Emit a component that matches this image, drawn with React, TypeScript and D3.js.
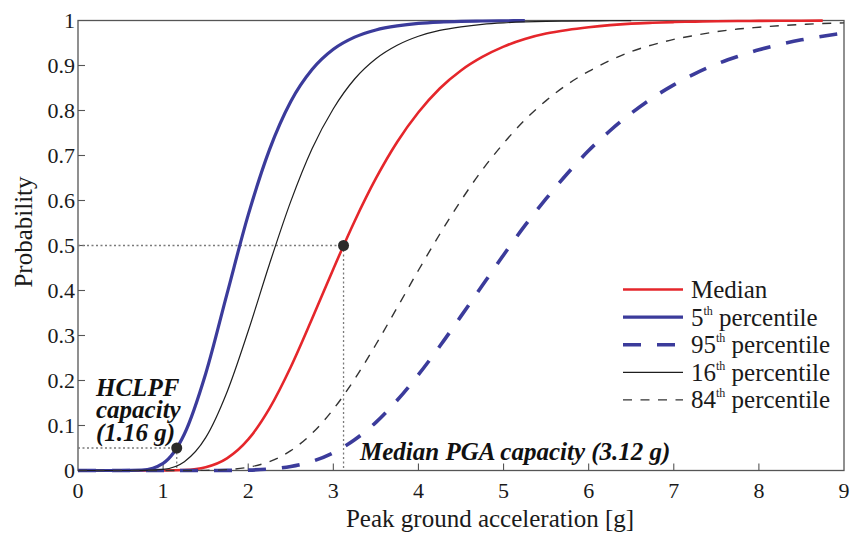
import React from "react";
import * as d3 from "d3";

// Peak ground acceleration grid [g]
const accel = [0, 0.25, 0.5, 0.75, 1, 1.25, 1.5, 1.75, 2, 2.25, 2.5, 2.75, 3, 3.25, 3.5, 3.75, 4, 4.25, 4.5, 4.75, 5, 5.25, 5.5, 5.75, 6, 6.25, 6.5, 6.75, 7, 7.25, 7.5, 7.75, 8, 8.25, 8.5, 8.75, 9];

// Probability of failure for each curve
const pMedian = [0, 0, 0, 0, 0.0001, 0.0011, 0.0073, 0.027, 0.069, 0.138, 0.23, 0.337, 0.448, 0.554, 0.649, 0.73, 0.796, 0.849, 0.889, 0.919, 0.942, 0.959, 0.971, 0.979, 0.985, 0.9897, 0.993, 0.995, 0.9965, 0.9975, 0.9983, 0.9988, 0.9992, 0.9994, 0.9996, 0.9997];
const p05 = [0, 0, 0, 0.001, 0.016, 0.081, 0.215, 0.392, 0.568, 0.713, 0.82, 0.891, 0.936, 0.963, 0.979, 0.988, 0.9935, 0.9964, 0.998, 0.9989, 0.9994, 0.9996];
const p95 = [0, 0, 0, 0, 0, 0, 0, 0.0002, 0.0009, 0.0033, 0.0091, 0.0204, 0.0396, 0.0683, 0.107, 0.156, 0.213, 0.276, 0.343, 0.411, 0.479, 0.544, 0.604, 0.66, 0.711, 0.755, 0.794, 0.828, 0.857, 0.882, 0.903, 0.92, 0.935, 0.947, 0.957, 0.965, 0.972];
const p16 = [0, 0, 0, 0.0001, 0.0025, 0.0196, 0.073, 0.174, 0.31, 0.459, 0.598, 0.715, 0.804, 0.87, 0.915, 0.945, 0.965, 0.978, 0.986, 0.9915, 0.9948, 0.9968, 0.998, 0.9988, 0.9992, 0.9995, 0.9997];
const p84 = [0, 0, 0, 0, 0, 0, 0.0003, 0.0019, 0.0072, 0.0198, 0.0441, 0.0826, 0.136, 0.203, 0.28, 0.362, 0.445, 0.525, 0.6, 0.668, 0.727, 0.779, 0.822, 0.858, 0.887, 0.911, 0.931, 0.946, 0.958, 0.967, 0.975, 0.981, 0.985, 0.9885, 0.991, 0.9933, 0.9948];

const xTicks = [0, 1, 2, 3, 4, 5, 6, 7, 8, 9];
const yTicks = [0, 0.1, 0.2, 0.3, 0.4, 0.5, 0.6, 0.7, 0.8, 0.9, 1];
const yTickLabels = ["0", "0.1", "0.2", "0.3", "0.4", "0.5", "0.6", "0.7", "0.8", "0.9", "1"];

const hclpf = { a: 1.16, p: 0.05 };
const medianCap = { a: 3.12, p: 0.5 };

const legendNames = ["Median", "5", "95", "16", "84"];
const hclpfLines = ["HCLPF", "capacity", "(1.16 g)"];

const BLUE = "#3b3b9b";
const RED = "#e5262b";
const FONT = "'Liberation Serif', 'Times New Roman', serif";

const series = [
  { key: "median", values: pMedian, color: RED, width: 2.6, dash: "" },
  { key: "p05", values: p05, color: BLUE, width: 3.2, dash: "" },
  { key: "p95", values: p95, color: BLUE, width: 3.6, dash: "18 16" },
  { key: "p16", values: p16, color: "#1e1e1e", width: 1.2, dash: "" },
  { key: "p84", values: p84, color: "#333", width: 1.4, dash: "9 8.5" },
];

export default function App() {
  const L = 78, R = 844, T = 20.5, B = 470.5;
  const x = d3.scaleLinear().domain([0, 9]).range([L, R]);
  const y = d3.scaleLinear().domain([0, 1]).range([B, T]);
  const line = d3
    .line<[number, number]>()
    .x((d) => x(d[0]))
    .y((d) => y(d[1]))
    .curve(d3.curveMonotoneX);

  const legendX1 = 623, legendX2 = 683, legendTextX = 691;
  const legendBase = [298, 325.6, 353.2, 380.8, 408.4];
  const hclpfBase = [396, 418, 441];

  return (
    <svg width={855} height={533} style={{ position: "absolute", left: 0, top: 0, background: "#fff" }} fontFamily={FONT}>
      <rect x={0} y={0} width={855} height={533} fill="#fff" />
      {/* box */}
      <rect x={L} y={T} width={R - L} height={B - T} fill="none" stroke="#555" strokeWidth={1.3} />
      {/* ticks */}
      {xTicks.slice(1, -1).map((t) => (
        <line key={"xt" + t} x1={x(t)} x2={x(t)} y1={B} y2={B - 7} stroke="#555" strokeWidth={1.1} />
      ))}
      {yTicks.slice(1, -1).map((t) => (
        <line key={"yt" + t} x1={L} x2={L + 7} y1={y(t)} y2={y(t)} stroke="#555" strokeWidth={1.1} />
      ))}
      {xTicks.map((t) => (
        <text key={"xl" + t} x={x(t)} y={498} fontSize={22} textAnchor="middle" fill="#1a1a1a">
          {t}
        </text>
      ))}
      {yTicks.map((t, i) => (
        <text key={"yl" + t} x={75} y={y(t) + 7.5} fontSize={22} textAnchor="end" fill="#1a1a1a">
          {yTickLabels[i]}
        </text>
      ))}
      {/* axis labels */}
      <text x={490} y={527} fontSize={25} textAnchor="middle" fill="#1a1a1a">
        Peak ground acceleration [g]
      </text>
      <text transform="translate(32,232) rotate(-90)" fontSize={25} textAnchor="middle" fill="#1a1a1a">
        Probability
      </text>
      {/* dotted guides */}
      <g stroke="#7a7a7a" strokeWidth={1.3} strokeDasharray="2 2.5" fill="none">
        <line x1={L} x2={x(medianCap.a)} y1={y(medianCap.p)} y2={y(medianCap.p)} />
        <line x1={x(medianCap.a)} x2={x(medianCap.a)} y1={y(medianCap.p)} y2={B} />
        <line x1={L} x2={x(hclpf.a)} y1={y(hclpf.p)} y2={y(hclpf.p)} />
        <line x1={x(hclpf.a)} x2={x(hclpf.a)} y1={y(hclpf.p)} y2={B} />
      </g>
      {/* curves */}
      {series.map((s) => (
        <path
          key={s.key}
          d={line(s.values.map((v, i) => [accel[i], v] as [number, number])) || ""}
          fill="none"
          stroke={s.color}
          strokeWidth={s.width}
          strokeDasharray={s.dash || undefined}
        />
      ))}
      {/* points */}
      <circle cx={x(hclpf.a)} cy={y(hclpf.p)} r={5.5} fill="#2a2a2a" />
      <circle cx={x(medianCap.a)} cy={y(medianCap.p)} r={5.5} fill="#2a2a2a" />
      {/* annotations */}
      <g fontWeight="bold" fontStyle="italic" fill="#111">
        {hclpfLines.map((t, i) => (
          <text key={t} x={96} y={hclpfBase[i]} fontSize={25}>
            {t}
          </text>
        ))}
        <text x={360} y={460} fontSize={25}>Median PGA capacity (3.12 g)</text>
      </g>
      {/* legend */}
      {series.map((s, i) => (
        <g key={"lg" + s.key}>
          <line
            x1={legendX1}
            x2={legendX2}
            y1={legendBase[i] - 8.5}
            y2={legendBase[i] - 8.5}
            stroke={s.color}
            strokeWidth={s.width}
            strokeDasharray={s.dash || undefined}
          />
          {i === 0 ? (
            <text x={legendTextX} y={legendBase[i]} fontSize={25} fill="#1a1a1a">
              {legendNames[i]}
            </text>
          ) : (
            <text x={legendTextX} y={legendBase[i]} fontSize={25} fill="#1a1a1a">
              {legendNames[i]}
              <tspan fontSize={12} dy={-11}>th</tspan>
              <tspan dy={11}>{" percentile"}</tspan>
            </text>
          )}
        </g>
      ))}
    </svg>
  );
}
